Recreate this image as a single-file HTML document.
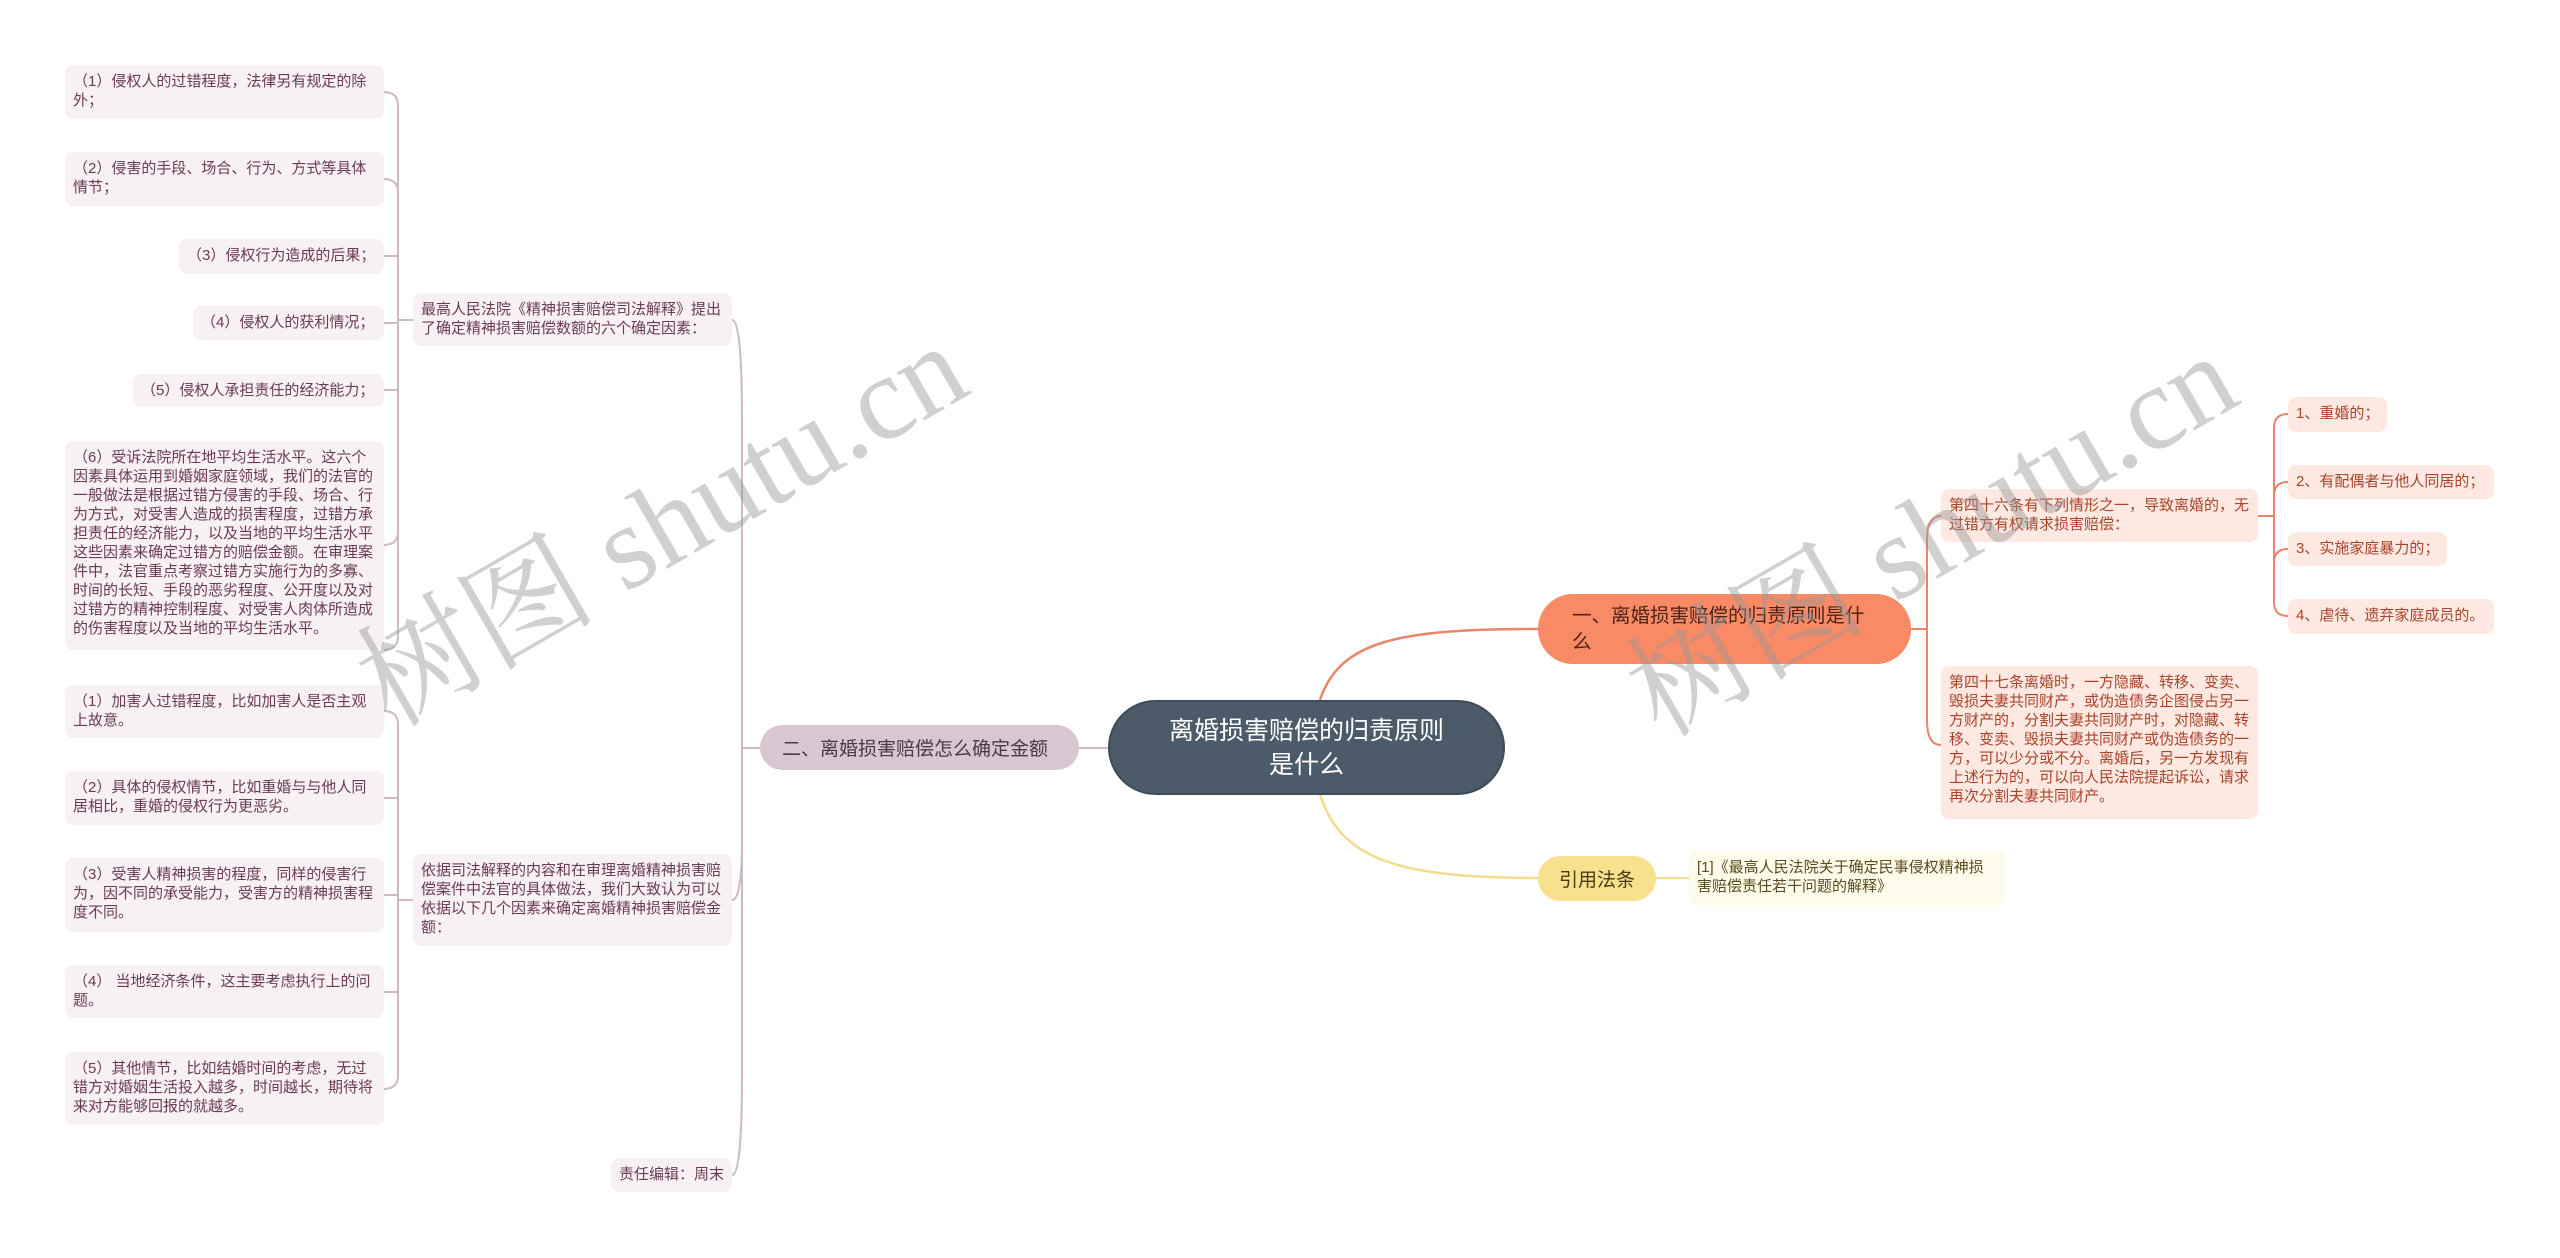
<!DOCTYPE html>
<html><head><meta charset="utf-8"><style>
*{margin:0;padding:0;box-sizing:border-box}
body{width:2560px;height:1258px;background:#fff;position:relative;overflow:hidden;font-family:"Liberation Sans","Noto Sans CJK SC",sans-serif}
.b{position:absolute;font-size:15px;line-height:19px;padding:7px 8px;border-radius:8px}
.l{background:#f7f1f4;color:#6a3b55}
.r{background:#fde8e2;color:#a9432a}
.y{background:#fffbea;color:#5a4a20}
.n{position:absolute;display:flex;align-items:center;border-radius:30px}
.wm{position:absolute;font-family:"Liberation Serif","Noto Serif CJK SC",serif;font-size:120px;color:rgba(150,150,150,0.45);transform:rotate(-30deg);white-space:nowrap;transform-origin:center}
</style></head><body>
<svg width="2560" height="1258" style="position:absolute;left:0;top:0" fill="none">
<g stroke="#cdbac5" stroke-width="2">
<path d="M384 92 Q398 92 398 106 L398 636 Q398 650 384 650"/>
<path d="M384 179 Q398 179 398 193"/>
<path d="M384 256 L398 256"/><path d="M384 323 L398 323"/><path d="M384 390 L398 390"/><path d="M384 545 Q398 545 398 531"/>
<path d="M398 320 L413 320"/>
<path d="M384 711 Q398 711 398 725 L398 1075 Q398 1089 384 1089"/>
<path d="M384 798 L398 798"/><path d="M384 895 L398 895"/><path d="M384 992 L398 992"/>
<path d="M398 900 L413 900"/>
<path d="M732 320 Q742 320 742 420 L742 1075 Q742 1175 732 1175"/>
<path d="M732 900 Q742 900 742 840"/>
<path d="M742 748 L760 748"/>
<path d="M1079 748 L1108 748"/>
</g>
<path d="M1320 700 C1340 640 1400 629 1538 629" stroke="#e9866a" stroke-width="2.5"/>
<path d="M1320 794 C1340 860 1400 878 1538 878" stroke="#f3dc8c" stroke-width="2.5"/>
<path d="M1656 878 L1689 878" stroke="#f3dc8c" stroke-width="2"/>
<g stroke="#e9866a" stroke-width="2">
<path d="M1911 629 L1927 629"/>
<path d="M1941 516 Q1927 516 1927 540 L1927 720 Q1927 745 1941 745"/>
<path d="M2258 516 L2274 516"/>
<path d="M2288 414 Q2274 414 2274 428 L2274 602 Q2274 616 2288 616"/>
<path d="M2288 482 Q2274 482 2274 496"/><path d="M2288 549 Q2274 549 2274 563"/>
</g>
</svg>

<div class="b l" style="left:65px;top:65px;width:319px;height:54px">（1）侵权人的过错程度，法律另有规定的除外；</div>
<div class="b l" style="left:65px;top:152px;width:319px;height:54px">（2）侵害的手段、场合、行为、方式等具体情节；</div>
<div class="b l" style="left:179px;top:239px;width:205px;height:35px;white-space:nowrap">（3）侵权行为造成的后果；</div>
<div class="b l" style="left:193px;top:306px;width:191px;height:34px;white-space:nowrap">（4）侵权人的获利情况；</div>
<div class="b l" style="left:133px;top:374px;width:251px;height:33px;white-space:nowrap">（5）侵权人承担责任的经济能力；</div>
<div class="b l" style="left:65px;top:441px;width:319px;height:209px">（6）受诉法院所在地平均生活水平。这六个因素具体运用到婚姻家庭领域，我们的法官的一般做法是根据过错方侵害的手段、场合、行为方式，对受害人造成的损害程度，过错方承担责任的经济能力，以及当地的平均生活水平这些因素来确定过错方的赔偿金额。在审理案件中，法官重点考察过错方实施行为的多寡、时间的长短、手段的恶劣程度、公开度以及对过错方的精神控制程度、对受害人肉体所造成的伤害程度以及当地的平均生活水平。</div>
<div class="b l" style="left:413px;top:293px;width:319px;height:53px">最高人民法院《精神损害赔偿司法解释》提出了确定精神损害赔偿数额的六个确定因素：</div>

<div class="b l" style="left:65px;top:685px;width:319px;height:53px">（1）加害人过错程度，比如加害人是否主观上故意。</div>
<div class="b l" style="left:65px;top:771px;width:319px;height:54px">（2）具体的侵权情节，比如重婚与与他人同居相比，重婚的侵权行为更恶劣。</div>
<div class="b l" style="left:65px;top:858px;width:319px;height:74px">（3）受害人精神损害的程度，同样的侵害行为，因不同的承受能力，受害方的精神损害程度不同。</div>
<div class="b l" style="left:65px;top:965px;width:319px;height:53px">（4） 当地经济条件，这主要考虑执行上的问题。</div>
<div class="b l" style="left:65px;top:1052px;width:319px;height:73px">（5）其他情节，比如结婚时间的考虑，无过错方对婚姻生活投入越多，时间越长，期待将来对方能够回报的就越多。</div>
<div class="b l" style="left:413px;top:854px;width:319px;height:92px">依据司法解释的内容和在审理离婚精神损害赔偿案件中法官的具体做法，我们大致认为可以依据以下几个因素来确定离婚精神损害赔偿金额：</div>
<div class="b l" style="left:611px;top:1158px;width:121px;height:34px;white-space:nowrap">责任编辑：周末</div>

<div class="n" style="left:760px;top:725px;width:319px;height:45px;background:#d9c6d0;color:#4a3a44;font-size:19px;padding-left:22px">二、离婚损害赔偿怎么确定金额</div>
<div class="n" style="left:1108px;top:700px;width:397px;height:95px;background:#4b5b69;border:2px solid #3e4c58;border-radius:48px;color:#fff;font-size:25px;line-height:34px;justify-content:center;text-align:center">离婚损害赔偿的归责原则<br>是什么</div>
<div class="n" style="left:1538px;top:594px;width:373px;height:70px;background:#f98a66;color:#4a2418;font-size:19.5px;line-height:26px;padding:0 18px 0 34px;border-radius:35px">一、离婚损害赔偿的归责原则是什<br>么</div>
<div class="n" style="left:1538px;top:856px;width:118px;height:45px;background:#f7e08e;color:#4a3a10;font-size:19px;justify-content:center;border-radius:23px">引用法条</div>
<div class="b y" style="left:1689px;top:851px;width:316px;height:54px">[1]《最高人民法院关于确定民事侵权精神损害赔偿责任若干问题的解释》</div>

<div class="b r" style="left:1941px;top:489px;width:317px;height:53px">第四十六条有下列情形之一，导致离婚的，无过错方有权请求损害赔偿：</div>
<div class="b r" style="left:1941px;top:666px;width:317px;height:153px">第四十七条离婚时，一方隐藏、转移、变卖、毁损夫妻共同财产，或伪造债务企图侵占另一方财产的，分割夫妻共同财产时，对隐藏、转移、变卖、毁损夫妻共同财产或伪造债务的一方，可以少分或不分。离婚后，另一方发现有上述行为的，可以向人民法院提起诉讼，请求再次分割夫妻共同财产。</div>
<div class="b r" style="left:2288px;top:397px;width:99px;height:35px;white-space:nowrap">1、重婚的；</div>
<div class="b r" style="left:2288px;top:465px;width:206px;height:34px;white-space:nowrap">2、有配偶者与他人同居的；</div>
<div class="b r" style="left:2288px;top:532px;width:159px;height:34px;white-space:nowrap">3、实施家庭暴力的；</div>
<div class="b r" style="left:2288px;top:599px;width:206px;height:35px;white-space:nowrap">4、虐待、遗弃家庭成员的。</div>

<div class="wm" style="left:320px;top:430px">树图 shutu.cn</div>
<div class="wm" style="left:1590px;top:440px">树图 shutu.cn</div>
</body></html>
